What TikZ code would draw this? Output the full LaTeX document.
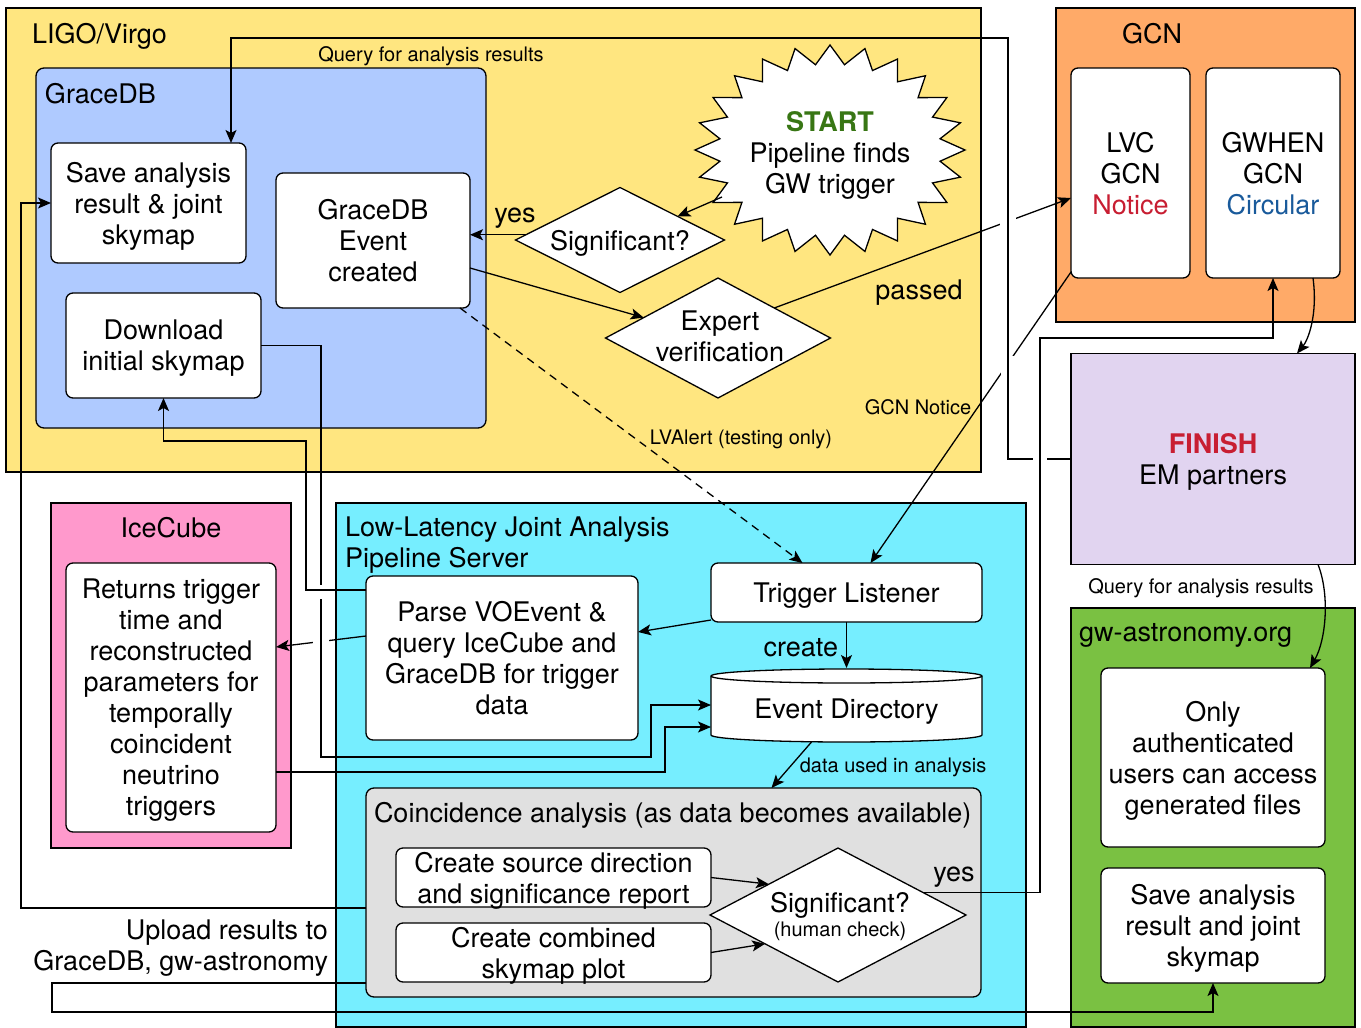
\documentclass[tikz,border=0pt]{standalone}
\usepackage{fontspec}
\setmainfont{TeX Gyre Heros}
\usetikzlibrary{arrows.meta,shapes.geometric,calc}
\definecolor{cyellow}{RGB}{255,230,128}
\definecolor{cblue}{RGB}{175,202,255}
\definecolor{corange}{RGB}{255,170,104}
\definecolor{cpurple}{RGB}{225,212,240}
\definecolor{cgreen}{RGB}{122,193,66}
\definecolor{cpink}{RGB}{255,153,204}
\definecolor{ccyan}{RGB}{118,238,255}
\definecolor{cgray}{RGB}{224,224,224}
\definecolor{cstart}{RGB}{56,118,20}
\definecolor{cred}{RGB}{200,30,50}
\definecolor{cbluetext}{RGB}{25,90,155}
\begin{document}
\begin{tikzpicture}[x=1pt,y=-1pt,line width=1.3pt,
  every node/.style={font=\fontsize{27}{31}\selectfont,inner sep=0pt,outer sep=0pt,align=center,text depth=0pt},
  cont/.style={draw,rectangle},
  wbox/.style={draw,fill=white,rounded corners=7pt},
  dia/.style={draw,fill=white,diamond},
  lab/.style={font=\fontsize{20}{24}\selectfont},
  arr/.style={-{Stealth[length=13pt,width=11pt,inset=3pt]}},
  gapfill/.style={fill=white,draw=none}]
\useasboundingbox (0,0) rectangle (1361,1028);

% ---------- containers ----------
\node[cont,fill=cyellow,minimum width=975pt,minimum height=464pt] (ligo) at (493.5,240) {};
\node[anchor=west] (ligot) at (32,33) {LIGO/Virgo};
\node[cont,fill=cblue,rounded corners=8pt,minimum width=450pt,minimum height=360pt] (gracedb) at (261,248) {};
\node[anchor=west] (gracedbt) at (45,93) {GraceDB};

\node[cont,fill=corange,minimum width=299pt,minimum height=314pt] (gcn) at (1205.5,165) {};
\node (gcnt) at (1152,33) {GCN};

\node[cont,fill=cpurple,minimum width=284pt,minimum height=211pt] (finish) at (1213,459) {\textcolor{cred}{\bfseries FINISH}\\EM partners};

\node[cont,fill=cgreen,minimum width=284pt,minimum height=419pt] (gwa) at (1213,817.5) {};
\node[anchor=west] (gwat) at (1079,632) {gw-astronomy.org};

\node[cont,fill=cpink,minimum width=240pt,minimum height=345pt] (icecube) at (171,675.5) {};
\node (icecubet) at (171,527) {IceCube};

\node[cont,fill=ccyan,minimum width=690pt,minimum height=524pt] (lowlat) at (681,765) {};
\node[anchor=west,align=left] (lowlatt) at (345,542.5) {Low-Latency Joint Analysis\\Pipeline Server};

\node[cont,fill=cgray,rounded corners=8pt,minimum width=615pt,minimum height=209pt] (coinc) at (673.5,892.5) {};
\node[anchor=west] (coinct) at (374,812) {Coincidence analysis (as data becomes available)};

% ---------- boxes ----------
\node[wbox,minimum width=195pt,minimum height=120pt] (save1) at (148.5,203) {Save analysis\\result \& joint\\skymap};
\node[wbox,minimum width=194pt,minimum height=135pt] (gevent) at (373,240.5) {GraceDB\\Event\\created};
\node[wbox,minimum width=195pt,minimum height=105pt] (download) at (163.5,345.5) {Download\\initial skymap};

\draw[fill=white] plot[samples at={0,...,47},variable=\i]
  ({830+ifthenelse(mod(\i,2)==0,135,111)*cos(\i*7.5)},{150-ifthenelse(mod(\i,2)==0,105,86)*sin(\i*7.5)}) -- cycle;
\node (start) at (830,152) {\textcolor{cstart}{\bfseries START}\\Pipeline finds\\GW trigger};

\node[dia,minimum width=209pt,minimum height=105pt] (sig1) at (620,240) {};
\node (sig1t) at (620,240) {Significant?};
\node[dia,minimum width=225pt,minimum height=120pt] (expert) at (718,338) {};
\node (expertt) at (720,336) {Expert\\verification};

\node[wbox,minimum width=119pt,minimum height=210pt] (lvc) at (1130.5,173) {LVC\\GCN\\\textcolor{cred}{Notice}};
\node[wbox,minimum width=134pt,minimum height=210pt] (gwhen) at (1273,173) {GWHEN\\GCN\\\textcolor{cbluetext}{Circular}};

\node[wbox,minimum width=224pt,minimum height=179pt] (only) at (1213,757.5) {Only\\authenticated\\users can access\\generated files};
\node[wbox,minimum width=224pt,minimum height=115pt] (save2) at (1213,925.5) {Save analysis\\result and joint\\skymap};

\node[wbox,minimum width=210pt,minimum height=269pt] (returns) at (171,697.5) {Returns trigger\\time and\\reconstructed\\parameters for\\temporally\\coincident\\neutrino\\triggers};

\node[wbox,minimum width=271pt,minimum height=59pt] (trigger) at (846.5,592.5) {Trigger Listener};
\node[wbox,minimum width=272pt,minimum height=164pt] (parse) at (502,658) {Parse VOEvent \&\\query IceCube and\\GraceDB for trigger\\data};

\node[minimum width=271pt,minimum height=74pt] (eventdir) at (846.5,705) {};
\draw[fill=white] (711,676) -- (711,735) arc[start angle=180,end angle=360,x radius=135.5pt,y radius=7pt]
  -- (982,676) arc[start angle=0,end angle=180,x radius=135.5pt,y radius=7pt] -- cycle;
\draw (711,676) arc[start angle=180,end angle=360,x radius=135.5pt,y radius=7pt];
\node (eventdirt) at (846.5,709) {Event Directory};

\node[wbox,minimum width=315pt,minimum height=59pt] (csrc) at (553.5,877.5) {Create source direction\\and significance report};
\node[wbox,minimum width=315pt,minimum height=59pt] (ccomb) at (553.5,952.5) {Create combined\\skymap plot};
\node[dia,minimum width=256pt,minimum height=134pt] (sig2) at (838,915) {};
\node (sig2t) at (840,902) {Significant?};
\node[lab] (sig2h) at (840,929) {(human check)};

% ---------- connectors ----------
\draw[arr] ([yshift=22pt]parse.west) -- ([yshift=50.5pt]returns.east);
\fill[gapfill] (313,632) rectangle (329,646);
\draw[arr] (download.east) -| (321,757) -| (651,705) -- (eventdir.west);
\fill[gapfill] (316,585) rectangle (326,599);
\draw[arr] ([yshift=-14pt]parse.north west) -| (306,441) -| (download.south);
\draw[arr] ([yshift=-74.5pt]returns.east) -| (665,727) -- ([yshift=-22pt]eventdir.west);

\draw[arr] ([yshift=2pt]trigger.south west) -- ([yshift=26pt]parse.east);
\draw[arr] (trigger.south) -- (eventdir.north);
\node[anchor=east] (createl) at (838,647) {create};
\draw[arr] ([xshift=-35pt]eventdir.south) -- ([xshift=98pt]coinc.north);
\node[lab] (datal) at (893,765) {data used in analysis};

\draw[arr] (csrc.east) -- ($(sig2.west)!0.46!(sig2.north)$);
\draw[arr] (ccomb.east) -- ($(sig2.west)!0.43!(sig2.south)$);

\draw[arr] ([yshift=-15.5pt]coinc.west) -| (21,203) -- (save1.west);
\draw[arr] ([yshift=-90.5pt]coinc.west) -| (52,1012) -| (save2.south);
\node[anchor=east,align=right] (uploadl) at (328,945) {Upload results to\\GraceDB, gw-astronomy};

\draw[arr,dash pattern=on 8pt off 6pt] ([xshift=-10pt]gevent.south east) -- ([xshift=-44pt]trigger.north);
\node[lab] (lvalertl) at (741,437) {LVAlert (testing only)};

\draw[arr] ([yshift=-27.5pt]gevent.east) -- ($(expert.west)!0.34!(expert.north)$);
\coordinate (s1w) at ($(sig1.west)!0.1!(sig1.north)$);
\draw[arr] (s1w) -- (s1w -| gevent.east);
\node (yes1) at (515,215) {yes};
\coordinate (stp) at (722,197);
\draw[arr] (stp) -- ($(sig1.north)!0.55!(sig1.east)$);

\draw[arr] (expert.north east) -- ([yshift=-25pt]lvc.west);
\node (passedl) at (919,290) {passed};
\draw[arr] ([yshift=6pt]lvc.south west) -- ([xshift=24pt]trigger.north);
\node[lab] (gcnl) at (918,407) {GCN Notice};
\fill[gapfill] (1000,213) rectangle (1016,229);
\fill[gapfill] (1001,356) rectangle (1015,376);

\draw[arr] (finish.west) -| (1008,38) -| ([xshift=82.5pt]save1.north);
\node[lab] (query1) at (431,54) {Query for analysis results};
\fill[gapfill] (1033,451) rectangle (1047,466);

\coordinate (s2y) at ($(sig2.north)!0.66!(sig2.east)$);
\draw[arr] (s2y) -| (1040,338) -| (gwhen.south);
\node (yes2) at (954,874) {yes};

\draw[arr] ([xshift=-27pt]gwhen.south east) .. controls (1318,315) and (1308,340) .. ([xshift=84pt]finish.north);
\draw[arr] ([xshift=105pt]finish.south) .. controls (1330,595) and (1326,640) .. ([xshift=97pt]only.north);
\node[lab] (query2) at (1201,586) {Query for analysis results};
\end{tikzpicture}
\end{document}
